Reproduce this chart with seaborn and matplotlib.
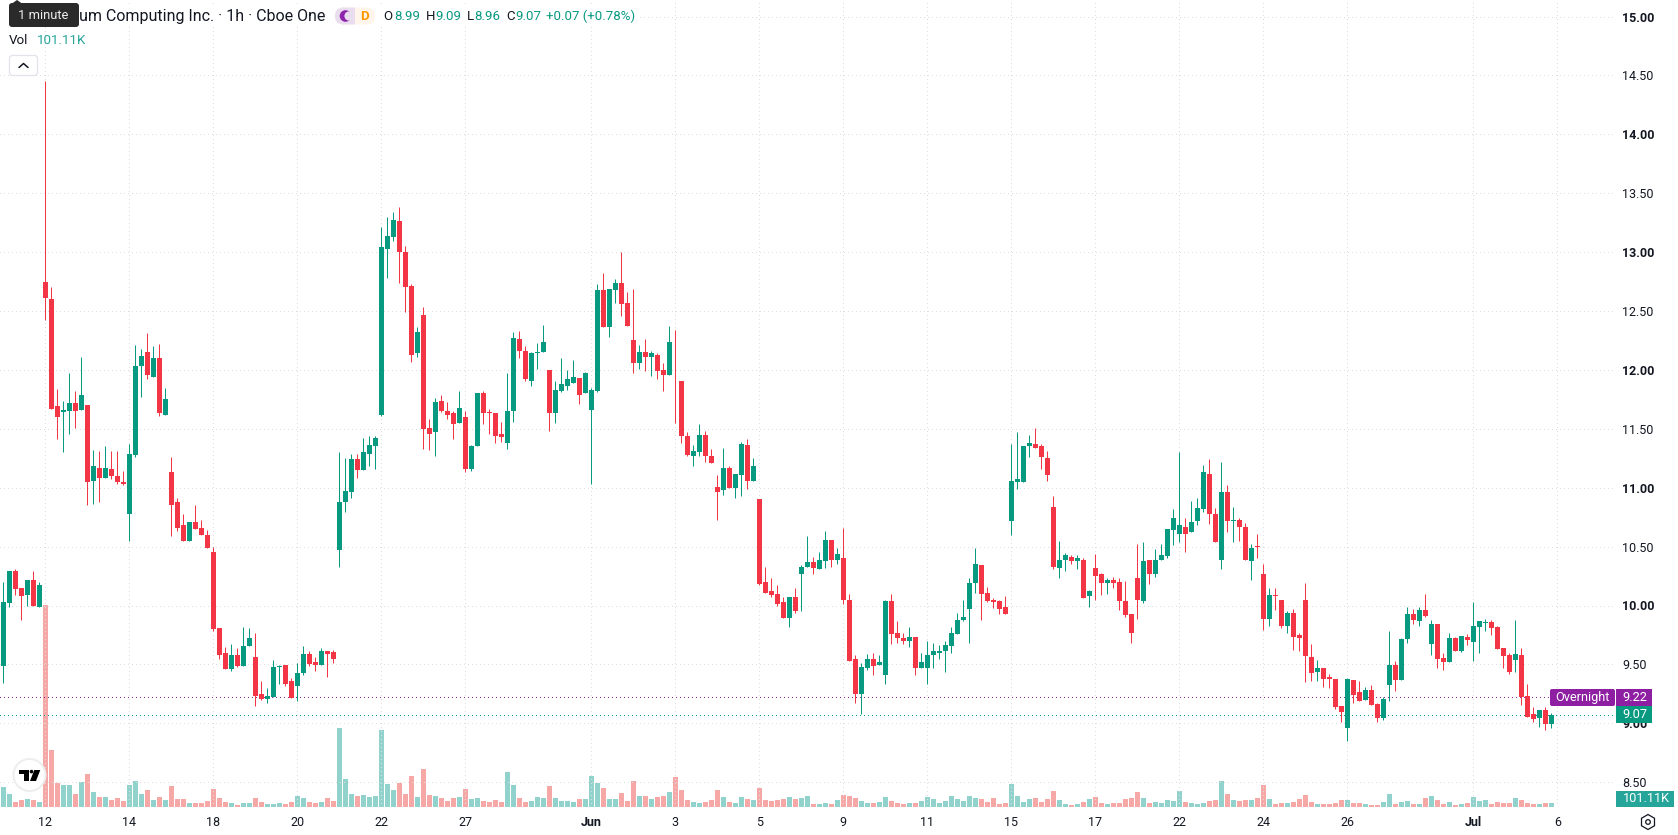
import numpy as np
import pandas as pd
import matplotlib
matplotlib.use("Agg")
import matplotlib.pyplot as plt
from matplotlib.patches import FancyBboxPatch, Rectangle, Circle, Polygon, RegularPolygon
import seaborn as sns

# Hourly session candles, oldest first
opens = [
    9.49,10.02,10.29,10.15,10.09,10.22,9.99,12.75,12.60,11.69,
    11.64,11.655,11.72,11.66,11.70,11.06,11.17,11.08,11.16,11.10,
    11.05,10.78,11.28,12.03,12.15,11.94,12.10,11.62,11.13,10.88,
    10.68,10.55,10.71,10.66,10.60,10.45,9.81,9.60,9.46,9.58,
    9.49,9.655,9.56,9.25,9.21,9.22,9.48,9.495,9.36,9.315,
    9.43,9.59,9.52,9.495,9.61,9.605,10.47,10.88,10.96,11.24,
    11.15,11.29,11.35,11.62,13.03,13.13,13.26,13.00,12.71,12.14,
    12.47,11.51,11.47,11.74,11.655,11.63,11.545,11.60,11.16,11.35,
    11.80,11.64,11.63,11.46,11.38,11.65,12.26,12.16,11.91,12.14,
    12.155,12.00,11.63,11.825,11.86,11.89,11.935,11.80,11.66,11.825,
    12.68,12.36,12.68,12.74,12.57,12.25,12.06,12.15,12.11,12.13,
    12.00,11.96,11.925,11.91,11.44,11.27,11.30,11.45,11.27,11.01,
    10.98,11.17,11.00,11.11,11.36,11.06,10.90,10.20,10.12,10.10,
    10.03,9.89,10.07,10.27,10.325,10.37,10.31,10.38,10.56,10.385,
    10.40,10.05,9.545,9.25,9.47,9.55,9.495,9.41,10.04,9.765,
    9.72,9.70,9.73,9.47,9.47,9.58,9.595,9.61,9.655,9.76,
    9.875,9.97,10.19,10.34,10.11,10.045,10.04,9.985,10.715,11.05,
    11.05,11.35,11.375,11.35,11.25,10.84,10.315,10.385,10.41,10.375,
    10.39,10.08,10.315,10.265,10.19,10.215,10.20,10.04,9.93,10.23,
    10.04,10.385,10.265,10.39,10.42,10.64,10.605,10.67,10.62,10.715,
    10.815,11.12,10.78,10.385,10.96,10.72,10.73,10.67,10.375,10.505,
    10.27,9.885,10.09,10.05,9.83,9.935,9.75,10.05,9.56,9.435,
    9.47,9.39,9.375,9.15,8.96,9.37,9.265,9.20,9.28,9.165,
    9.045,9.325,9.495,9.37,9.715,9.93,9.87,9.96,9.67,9.84,
    9.555,9.52,9.72,9.61,9.73,9.69,9.815,9.855,9.86,9.815,
    9.64,9.58,9.54,9.58,9.23,9.08,9.045,9.11,8.99,
]
highs = [
    10.20,10.29,10.31,10.15,10.22,10.29,10.20,14.45,12.70,11.84,
    11.74,11.97,11.82,12.11,11.70,11.32,11.31,11.35,11.31,11.31,
    11.14,11.37,12.21,12.18,12.31,12.20,12.22,11.85,11.26,10.91,
    10.78,10.71,10.85,10.73,10.64,10.50,9.81,9.65,9.67,9.64,
    9.82,9.81,9.77,9.36,9.30,9.54,9.495,9.495,9.385,9.51,
    9.66,9.61,9.56,9.64,9.61,9.62,11.30,11.25,11.29,11.29,
    11.42,11.44,11.44,13.21,13.30,13.34,13.38,13.05,12.73,12.36,
    12.53,11.58,11.76,11.79,11.73,11.655,11.82,11.655,11.36,11.80,
    11.825,11.67,11.63,11.56,11.97,12.32,12.33,12.20,12.15,12.23,
    12.38,12.00,11.91,12.10,12.00,12.08,11.935,11.98,11.85,12.73,
    12.825,12.69,12.77,13.00,12.66,12.69,12.21,12.26,12.16,12.14,
    12.06,12.37,12.34,11.91,11.47,11.36,11.54,11.48,11.325,11.11,
    11.34,11.18,11.12,11.39,11.41,11.25,10.90,10.325,10.23,10.17,
    10.07,10.07,10.15,10.34,10.59,10.41,10.45,10.63,10.56,10.485,
    10.655,10.10,9.58,9.51,9.59,9.60,9.58,10.045,10.10,9.87,
    9.77,9.82,9.73,9.595,9.70,9.68,9.665,9.70,9.82,9.935,
    10.05,10.23,10.49,10.34,10.16,10.06,10.05,10.08,11.375,11.47,
    11.35,11.45,11.51,11.37,11.31,10.93,10.545,10.445,10.43,10.43,
    10.40,10.13,10.435,10.28,10.23,10.24,10.23,10.21,9.93,10.52,
    10.54,10.39,10.48,10.52,10.65,10.815,11.30,10.74,10.885,10.91,
    11.19,11.24,10.83,11.22,11.02,10.84,10.74,10.70,10.52,10.61,
    10.35,10.15,10.15,10.05,9.95,9.97,9.77,10.19,9.67,9.54,
    9.47,9.42,9.375,9.15,9.385,9.37,9.36,9.31,9.325,9.17,
    9.22,9.78,9.53,9.72,9.99,9.97,9.99,10.10,9.875,9.84,
    9.595,9.77,9.73,9.74,9.76,10.03,9.87,9.885,9.875,9.83,
    9.64,9.60,9.875,9.64,9.33,9.14,9.11,9.14,9.09,
]
lows = [
    9.34,9.99,10.09,9.88,10.00,9.995,9.99,12.42,11.67,11.41,
    11.30,11.46,11.51,11.66,10.85,10.86,10.88,11.08,11.07,11.03,
    11.02,10.55,11.26,11.77,11.92,11.94,11.61,11.62,10.59,10.63,
    10.545,10.545,10.65,10.60,10.49,9.78,9.55,9.46,9.44,9.48,
    9.49,9.655,9.15,9.20,9.17,9.22,9.33,9.315,9.215,9.19,
    9.41,9.485,9.44,9.495,9.39,9.51,10.325,10.79,10.91,11.08,
    11.15,11.18,11.155,11.61,12.78,13.09,12.74,12.49,12.07,12.11,
    11.33,11.32,11.27,11.64,11.58,11.41,11.545,11.13,11.14,11.35,
    11.54,11.46,11.38,11.39,11.33,11.56,12.10,11.91,11.86,12.01,
    12.155,11.48,11.545,11.81,11.83,11.89,11.71,11.80,11.03,11.81,
    12.36,12.28,12.57,12.46,12.37,11.97,12.01,11.99,11.95,11.92,
    11.825,11.96,11.55,11.38,11.27,11.18,11.265,11.22,11.21,10.73,
    10.935,11.00,10.91,10.93,10.99,11.06,10.17,10.11,10.07,10.00,
    9.89,9.82,9.94,9.95,10.325,10.265,10.31,10.315,10.325,10.35,
    10.01,9.53,9.17,9.08,9.45,9.41,9.495,9.33,9.67,9.68,
    9.67,9.65,9.41,9.47,9.33,9.47,9.545,9.435,9.60,9.76,
    9.87,9.68,10.11,9.875,10.03,9.98,9.93,9.93,10.60,10.99,
    11.05,11.26,11.34,11.16,11.06,10.31,10.23,10.29,10.35,10.31,
    10.06,9.99,10.045,10.09,10.10,10.15,9.96,9.90,9.68,9.885,
    10.02,10.18,10.24,10.39,10.40,10.51,10.54,10.45,10.62,10.68,
    10.79,10.69,10.54,10.31,10.62,10.54,10.545,10.385,10.22,10.40,
    9.79,9.83,9.96,9.81,9.77,9.62,9.61,9.35,9.36,9.36,
    9.31,9.30,9.12,9.01,8.85,9.17,9.19,9.20,9.155,9.01,
    9.03,9.19,9.27,9.37,9.68,9.84,9.825,9.90,9.58,9.47,
    9.45,9.52,9.61,9.605,9.665,9.53,9.60,9.78,9.75,9.63,
    9.47,9.42,9.435,9.155,9.05,9.01,8.97,8.94,8.96,
]
closes = [
    10.03,10.29,10.14,10.08,10.22,10.00,10.17,12.61,11.67,11.60,
    11.66,11.715,11.65,11.79,11.05,11.18,11.08,11.17,11.10,11.05,
    11.03,11.29,12.03,12.12,11.96,12.10,11.63,11.75,10.85,10.66,
    10.55,10.71,10.65,10.60,10.49,9.80,9.58,9.46,9.58,9.49,
    9.66,9.72,9.23,9.21,9.23,9.48,9.485,9.33,9.215,9.43,
    9.59,9.50,9.495,9.61,9.59,9.545,10.88,10.97,11.24,11.15,
    11.30,11.36,11.42,13.04,13.14,13.27,13.00,12.70,12.13,12.32,
    11.50,11.46,11.73,11.655,11.62,11.54,11.68,11.155,11.35,11.80,
    11.63,11.63,11.44,11.43,11.655,12.27,12.16,11.92,12.14,12.15,
    12.24,11.63,11.83,11.88,11.92,11.94,11.79,11.97,11.83,12.68,
    12.36,12.69,12.74,12.56,12.37,12.06,12.15,12.11,12.14,11.99,
    11.96,12.24,11.92,11.435,11.28,11.31,11.45,11.265,11.21,10.96,
    11.17,11.00,11.12,11.37,11.06,11.18,10.18,10.11,10.09,10.01,
    9.89,10.07,9.95,10.33,10.37,10.315,10.39,10.56,10.385,10.435,
    10.045,9.53,9.25,9.48,9.55,9.485,9.52,10.04,9.76,9.72,
    9.70,9.73,9.47,9.52,9.58,9.61,9.61,9.665,9.77,9.875,
    9.90,10.19,10.35,10.10,10.04,10.03,9.97,9.93,11.06,11.07,
    11.35,11.38,11.34,11.26,11.11,10.325,10.39,10.43,10.375,10.40,
    10.06,10.12,10.25,10.19,10.22,10.19,10.04,9.92,9.765,10.045,
    10.375,10.265,10.39,10.43,10.65,10.74,10.68,10.61,10.705,10.825,
    11.13,10.78,10.54,10.96,10.715,10.73,10.665,10.385,10.49,10.495,
    9.885,10.09,10.08,9.83,9.935,9.73,9.72,9.57,9.43,9.47,
    9.375,9.375,9.14,9.095,9.375,9.24,9.19,9.28,9.155,9.045,
    9.205,9.495,9.37,9.715,9.93,9.875,9.96,9.91,9.84,9.545,
    9.52,9.72,9.61,9.74,9.705,9.825,9.87,9.86,9.81,9.63,
    9.57,9.435,9.59,9.22,9.05,9.035,9.11,8.99,9.07,
]
# Traded shares per candle, in thousands
volumes_k = [
    496,319,118,168,193,168,118,5082,1428,596,
    546,546,319,622,823,370,244,244,168,218,
    143,546,647,319,420,168,244,168,521,193,
    193,92,92,92,143,445,218,118,92,42,
    92,92,218,118,67,67,92,67,118,269,
    218,118,92,118,218,143,1982,697,319,269,
    294,244,269,1932,580,428,605,328,781,252,
    958,302,277,227,151,227,252,454,202,227,
    151,126,176,126,882,554,227,126,151,252,
    227,529,227,151,151,126,202,202,781,605,
    479,202,202,353,151,655,277,277,202,252,
    277,378,756,428,176,126,101,126,176,428,
    252,126,101,252,202,176,479,176,151,176,
    202,252,202,227,277,76,76,101,76,176,
    302,277,227,151,101,101,126,252,151,101,
    76,101,101,151,252,202,101,151,277,202,
    151,277,227,202,126,227,76,101,580,277,
    126,202,227,126,202,403,176,76,50,76,
    126,202,252,101,76,101,101,193,218,370,
    218,92,118,92,168,143,395,118,92,67,
    92,143,168,647,319,168,143,168,168,218,
    546,193,67,92,92,118,193,294,118,67,
    67,67,92,168,168,92,92,67,42,42,
    118,319,67,118,143,67,67,218,269,168,
    67,118,42,67,92,244,143,168,67,118,
    92,92,218,168,92,67,67,92,101.11,
]
# Session tick marks along the time axis
date_ticks = [7, 21, 35, 49, 63, 77, 98, 112, 126, 140, 154, 168, 182, 196, 210, 224, 245, 259]
date_labels = ["12", "14", "18", "20", "22", "27", "Jun", "3", "5", "9", "11", "15", "17", "22", "24", "26", "Jul", "6"]
price_levels = [8.5, 9.0, 9.5, 10.0, 10.5, 11.0, 11.5, 12.0, 12.5, 13.0, 13.5, 14.0, 14.5, 15.0]
overnight_price = 9.22
last_price = 9.07

UP = "#089981"
DOWN = "#F23645"
INK = "#131722"
GRID = "#DCDDE0"

sns.set_theme(style="white")
plt.rcParams["font.family"] = ["Roboto", "DejaVu Sans"]

W, H = 1678, 835
PANE_W, PANE_H = 1613, 807

df = pd.DataFrame({"candle": np.arange(len(closes)), "open": opens, "high": highs,
                   "low": lows, "close": closes, "volume": volumes_k})
df["direction"] = np.where(df["close"] >= df["open"], "up", "down")

fig = plt.figure(figsize=(W / 100, H / 100), dpi=100, facecolor="white")
pane = [0, 1 - PANE_H / H, PANE_W / W, PANE_H / H]
x_limits = (-3.33 / 6, (PANE_W - 3.33) / 6)

# Volume histogram shares the candle pane, anchored to its bottom edge
vol_ax = fig.add_axes(pane, zorder=1)
sns.barplot(data=df, x="candle", y="volume", hue="direction", hue_order=["up", "down"],
            palette={"up": "#26A69A", "down": "#EF5350"}, native_scale=True, dodge=False,
            width=5 / 6, saturation=1, alpha=0.5, errorbar=None, legend=False,
            linewidth=0, ax=vol_ax)
vol_ax.set_xlim(*x_limits)
vol_ax.set_ylim(0, PANE_H * 25.2)
vol_ax.axis("off")

# Price pane
ax = fig.add_axes(pane, zorder=2)
ax.patch.set_alpha(0)
colors = [UP if d == "up" else DOWN for d in df["direction"]]
ax.vlines(df["candle"], df["low"], df["high"], colors=colors, linewidth=0.72, zorder=4)
ax.bar(df["candle"], (df["close"] - df["open"]).abs(), bottom=df[["open", "close"]].min(axis=1),
       width=5 / 6, color=colors, linewidth=0, zorder=5)
ax.axhline(overnight_price, color="#8E24AA", lw=0.72, ls=(0, (1, 3)), antialiased=False, zorder=3)
ax.axhline(last_price, color=UP, lw=0.72, ls=(0, (1, 3)), antialiased=False, zorder=3)

ax.set_xlim(*x_limits)
ax.set_ylim(9 - (PANE_H - 723.3) / 117.8, 9 + 723.3 / 117.8)
ax.set_xticks(date_ticks, date_labels)
ax.set_yticks(price_levels, [f"{p:.2f}" for p in price_levels])
ax.yaxis.tick_right()
ax.grid(True, color=GRID, lw=0.72, ls=(0, (1, 3)), antialiased=False, zorder=0)
ax.set_axisbelow(True)
ax.tick_params(length=0)
ax.tick_params(axis="x", pad=6.5, labelsize=9, labelcolor=INK)
ax.tick_params(axis="y", pad=6.5, labelsize=9, labelcolor=INK)
for label in ax.get_xticklabels():
    if not label.get_text().isdigit():
        label.set_fontweight("bold")
for label, level in zip(ax.get_yticklabels(), price_levels):
    if level == int(level):
        label.set_fontweight("bold")
sns.despine(ax=ax, left=True, right=True, top=True, bottom=True)

# Interface furniture is laid out in screen pixels on a transparent layer
ui = fig.add_axes([0, 0, 1, 1], zorder=3)
ui.set_xlim(0, W)
ui.set_ylim(H, 0)
ui.axis("off")

ui.add_patch(Rectangle((0, 7), 640, 18, color="white", lw=0, zorder=1))
ui.text(79, 16, "um Computing Inc. · 1h · Cboe One", fontsize=11.55, color=INK, va="center", zorder=3)

# Session and delay badges
pill = dict(boxstyle="round,pad=0,rounding_size=8.5", lw=0)
ui.add_patch(FancyBboxPatch((335, 7.5), 40, 17, fc="#FFF5EB", zorder=2, **pill))
lilac = FancyBboxPatch((335, 7.5), 40, 17, fc="#EBDDF0", zorder=2, **pill)
ui.add_patch(lilac)
lilac.set_clip_path(Rectangle((335, 7), 20, 18, transform=ui.transData))
ui.add_patch(Circle((345.5, 16), 5.8, fc="#8E24AA", lw=0, zorder=3))
ui.add_patch(Circle((349, 16), 4.6, fc="#EBDDF0", lw=0, zorder=4))
ui.text(364.5, 16, "D", fontsize=9.5, fontweight="bold", color="#FF9800", ha="center", va="center", zorder=3)

# Last bar's open, high, low, close
legend_items = [(383, "O", INK), (394, "8.99", UP), (426, "H", INK), (435, "9.09", UP),
                (467, "L", INK), (474, "8.96", UP), (506, "C", INK), (515, "9.07", UP),
                (546, "+0.07 (+0.78%)", UP)]
for x, text, color in legend_items:
    ui.text(x, 16, text, fontsize=9.5, color=color, va="center", zorder=3)

ui.text(9, 40, "Vol", fontsize=9.6, color=INK, va="center")
ui.text(37, 40, "101.11K", fontsize=9.6, color="#26A69A", va="center")

# Collapse button
ui.add_patch(FancyBboxPatch((9.5, 55.5), 28, 20, boxstyle="round,pad=0,rounding_size=3",
                            fc="white", ec="#E0E3EB", lw=0.9))
ui.plot([19, 23.5, 28], [67.5, 63.5, 67.5], color=INK, lw=1.1)

# Timeframe tooltip
ui.add_patch(Polygon([(12, 3.5), (17, 0), (22, 3.5)], fc="#2A2A2A", lw=0, zorder=5))
ui.add_patch(FancyBboxPatch((9, 3), 70, 24, boxstyle="round,pad=0,rounding_size=3",
                            fc="#2A2A2A", lw=0, zorder=5))
ui.text(43.5, 15.5, "1 minute", fontsize=9.3, color="#EDEDED", ha="center", va="center", zorder=6)

# Price tags on the axis
ui.add_patch(FancyBboxPatch((1550, 689), 65, 17, boxstyle="round,pad=0,rounding_size=2",
                            fc="#8E1FA3", lw=0, zorder=2))
ui.add_patch(Rectangle((1616, 689), 36, 17, fc="#8E1FA3", lw=0, zorder=2))
ui.add_patch(Rectangle((1616, 706), 36, 17, fc=UP, lw=0, zorder=2))
ui.add_patch(Rectangle((1616, 791), 58, 16, fc="#26A69A", lw=0, zorder=2))
ui.text(1555, 697.5, "Overnight", fontsize=9.2, color="white", va="center", zorder=3)
ui.text(1622.5, 697.5, "9.22", fontsize=9.2, color="white", va="center", zorder=3)
ui.text(1622.5, 714.5, "9.07", fontsize=9.2, color="white", va="center", zorder=3)
ui.text(1622.5, 799, "101.11K", fontsize=9.2, color="white", va="center", zorder=3)

# Chart settings icon
ui.add_patch(RegularPolygon((1648, 822), 6, radius=7.5, fc="none", ec=INK, lw=0.9))
ui.add_patch(Circle((1648, 822), 2.3, fc="none", ec=INK, lw=0.9))

# Provider badge
ui.add_patch(Circle((29.5, 775), 16, fc="white", ec="#EDEDED", lw=1.4, zorder=6))
ui.add_patch(Polygon([(19, 770), (29.3, 770), (29.3, 781), (24, 781), (24, 774), (19, 774)],
                     fc="black", lw=0, zorder=7))
ui.add_patch(Circle((31.5, 771.6), 1.8, fc="black", lw=0, zorder=7))
ui.add_patch(Polygon([(34.3, 770), (40.3, 770), (36, 781), (30, 781)], fc="black", lw=0, zorder=7))

fig.savefig("out.png", dpi=100, facecolor="white")
